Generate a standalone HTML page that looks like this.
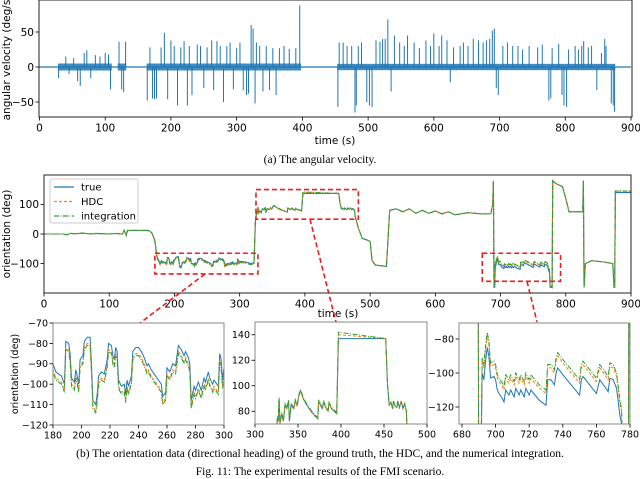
<!DOCTYPE html>
<html><head><meta charset="utf-8"><style>
html,body{margin:0;background:#fff;width:640px;height:479px;overflow:hidden}
svg{display:block;font-family:"DejaVu Sans","Liberation Sans",sans-serif;overflow:hidden}
.cap{font-family:"Liberation Serif",serif;font-size:11.5px}
</style></head><body>
<svg id="fig" width="640" height="479" viewBox="0 0 640 479">
<defs>
<clipPath id="c1"><rect x="39" y="0" width="593" height="117"/></clipPath>
<clipPath id="c2"><rect x="44" y="175" width="587" height="118"/></clipPath>
<clipPath id="c3"><rect x="53" y="323" width="171" height="102"/></clipPath>
<clipPath id="c4"><rect x="255" y="322" width="172" height="102"/></clipPath>
<clipPath id="c5"><rect x="459" y="323" width="171" height="101"/></clipPath>
</defs>
<text class="cap" x="320" y="163" text-anchor="middle">(a) The angular velocity.</text>
<text class="cap" x="320" y="457" text-anchor="middle">(b) The orientation data (directional heading) of the ground truth, the HDC, and the numerical integration.</text>
<text class="cap" x="320" y="475" text-anchor="middle">Fig. 11: The experimental results of the FMI scenario.</text>
</svg>
<script>
// ---- angular velocity data ----
const avSegments=[[28,110],[119,132],[163,398],[453,876]];
const avBand=[5,5,5,4.5];
const spikeT=[29,40,45,52,58,62,68,72,78,85,92,100,105,108,121,125,128,131,
164,168,172,175,178,185,190,195,200,205,210,215,220,225,228,232,240,245,250,255,262,265,270,275,280,285,290,295,300,305,310,315,318,322,325,328,330,335,340,345,350,355,360,365,372,380,390,396,
454,456,462,468,475,480,482,485,490,498,502,506,512,518,522,526,530,535,540,548,555,560,570,578,588,595,600,608,612,620,625,630,640,645,652,660,668,675,680,685,689,692,695,698,705,712,720,728,735,745,758,765,775,778,780,790,795,798,802,805,815,820,825,828,835,840,848,855,860,862,870,873,875];
const spikeV=[-16,15,-10,13,-20,-27,20,24,-16,17,15,20,18,-32,36,-32,-36,36,
-48,28,-45,-46,-45,28,49,-46,38,30,-55,28,37,-55,30,-40,32,30,-30,28,38,-33,37,30,-50,30,35,-32,27,35,-33,-40,-38,60,55,-52,35,30,-35,30,-33,27,-40,27,30,26,27,88,
-57,35,35,30,30,-65,-55,30,35,-50,-55,-57,38,36,40,40,68,-35,45,35,30,45,35,27,38,30,48,30,45,38,-22,28,30,35,30,40,38,35,38,40,52,55,-30,-40,30,35,30,30,25,30,28,32,-48,-45,27,33,-40,-55,-57,25,30,25,30,37,28,30,-33,20,40,30,-52,-55,-64];
const avXTicks=[0,100,200,300,400,500,600,700,800,900];
const avYTicks=[-50,0,50];
// ---- orientation data ----
const oriT=[0,30,35,40,50,60,70,80,90,100,110,120,123,126,128,160,165,170,173,178,
180,182,186,188,189,191,192,193,195,196,197,198,199,201,202,204,206,207,208,210,211,212,214,216,218,219,221,222,223,224,225,226,228,230,231,232,233,235,236,238,240,242,244,246,247,249,252,256,257,259,260,262,264,266,268,270,272,273,275,276,277,279,280,282,284,286,287,289,290,292,293,296,297,298,299,300,
310,318,322,324,326,327,328,329,331,333,335,337,339,340,342,345,347,349,351,353,356,360,365,370,373,374,376,378,380,382,385,386,389,392,395,397,452,454,456,458,460,461,463,465,466,468,470,472,474,476,477,
482,488,495,500,503,508,520,525,530,540,550,560,570,580,590,600,610,620,630,650,670,685,688,689,
690,691,692,693,694,695,696,697,699,700,701,702,704,705,706,708,709,711,712,714,715,717,718,720,721,726,730,731,733,735,736,737,740,745,750,751,752,756,760,762,765,767,768,770,772,774,775,776,
779,780,785,795,800,805,826,827,828,830,840,860,872,874,875,876,900];
const oriTrue=[0,0,-3,2,1,3,0,2,1,0,2,0,12,-5,12,12,5,-20,-75,-100,
-90,-94,-96,-100,-79,-80,-85,-97,-99,-93,-96,-100,-88,-86,-79,-77,-77,-90,-108,-110,-105,-96,-94,-95,-88,-80,-81,-86,-88,-82,-84,-98,-101,-100,-105,-98,-101,-96,-84,-82,-82,-84,-87,-91,-90,-93,-96,-100,-106,-104,-92,-94,-90,-91,-81,-83,-86,-84,-87,-90,-108,-101,-103,-99,-103,-97,-99,-94,-97,-100,-98,-101,-85,-88,-98,-92,
-95,-100,-96,40,75,72,90,70,78,72,85,82,88,72,85,82,88,84,92,96,90,85,80,76,74,88,85,82,87,83,80,86,82,80,78,137,137,102,85,87,82,88,84,83,88,83,88,82,86,80,60,
20,-15,-20,-25,-90,-105,-108,-110,80,85,75,85,70,80,70,78,68,75,65,72,68,68,100,180,
-180,-180,-100,-104,-93,-85,-90,-103,-102,-104,-110,-112,-115,-117,-110,-113,-110,-114,-109,-113,-110,-114,-109,-113,-110,-116,-119,-104,-104,-107,-100,-97,-101,-107,-113,-104,-102,-107,-112,-104,-108,-111,-103,-104,-109,-125,-130,-180,
-180,180,170,160,120,75,75,180,-180,-100,-90,-95,-100,-180,-180,140,140];
const offStart=[0,170,325,397,452,690,778,876];
const hdcOff=[0,-3,0,3,0,7,0,5];
const intOff=[0,-4,1,5,0,9,0,5];
const mainXTicks=[0,100,200,300,400,500,600,700,800,900];
const mainYTicks=[-100,0,100];
const p1XTicks=[180,200,220,240,260,280,300];
const p1YTicks=[-120,-110,-100,-90,-80,-70];
const p2XTicks=[300,350,400,450,500];
const p2YTicks=[80,100,120,140];
const p3XTicks=[680,700,720,740,760,780];
const p3YTicks=[-120,-100,-80];

const NS='http://www.w3.org/2000/svg';
const svg=document.getElementById('fig');
function mk(tag,attrs,parent){const e=document.createElementNS(NS,tag);for(const k in attrs)e.setAttribute(k,attrs[k]);(parent||svg).appendChild(e);return e;}
function lin(d0,d1,r0,r1){return v=>r0+(v-d0)*(r1-r0)/(d1-d0);}
function fmt(v){return v<0?'\u2212'+Math.abs(v):String(v);}
function offAt(t,arr){let o=0;for(let i=0;i<offStart.length;i++){if(t>=offStart[i])o=arr[i];}return o;}

function axes(name,x0,x1,y0,y1,sx,sy,xt,yt,fs,col){
  const g=mk('g',{});
  
  
  mk('rect',{x:x0,y:y0,width:x1-x0,height:y1-y0,fill:'none',stroke:col,'stroke-width':1},g);
  xt.forEach(v=>{const x=sx(v);
    mk('line',{x1:x,x2:x,y1:y1,y2:y1+3.5,stroke:'#000','stroke-width':0.8},g);
    const t=mk('text',{x:x,y:y1+4+fs,'font-size':fs,'text-anchor':'middle'},g);t.textContent=fmt(v);
    
    
  });
  yt.forEach(v=>{const y=sy(v);
    mk('line',{x1:x0-3.5,x2:x0,y1:y,y2:y,stroke:'#000','stroke-width':0.8},g);
    const t=mk('text',{x:x0-5,y:y+fs*0.36,'font-size':fs,'text-anchor':'end'},g);t.textContent=fmt(v);
    
    
  });
  return g;
}
function series(name,clip,sx,sy,off,color,dash,w){
  let d='';
  oriT.forEach((t,i)=>{const v=oriTrue[i]+(off?offAt(t,off):0);d+=(i?'L':'M')+sx(t).toFixed(2)+','+sy(v).toFixed(2);});
  const p=mk('path',{d:d,fill:'none',stroke:color,'stroke-width':w,'stroke-dasharray':dash,'clip-path':'url(#'+clip+')'});
  
  
}
function threeSeries(prefix,clip,sx,sy,w){
  series(prefix+'-true-line',clip,sx,sy,null,'#1f77b4','none',w);
  series(prefix+'-hdc-line',clip,sx,sy,hdcOff,'#ff7f0e','3,2',w);
  series(prefix+'-integration-line',clip,sx,sy,intOff,'#2ca02c','5,1.5,1,1.5',w);
}

// ---- top chart ----
const ax=lin(0,900,39.5,631), ay=lin(0,50,67,32);
const gAv=mk('g',{'clip-path':'url(#c1)'});


mk('line',{x1:ax(0),x2:ax(900),y1:ay(0),y2:ay(0),stroke:'#1f77b4','stroke-width':1.2},gAv);
avSegments.forEach((s,i)=>{const r=mk('rect',{x:ax(s[0]),y:ay(avBand[i]),width:ax(s[1])-ax(s[0]),height:ay(-avBand[i])-ay(avBand[i]),fill:'#1f77b4',opacity:0.85},gAv);
  
  });
spikeT.forEach((t,i)=>{const l=mk('line',{x1:ax(t),x2:ax(t),y1:ay(0),y2:ay(spikeV[i]),stroke:'#1f77b4','stroke-width':1},gAv);
  
  });
axes('angular-velocity',39,632,0,117,ax,ay,avXTicks,avYTicks,10.5,'#222');
let t;
t=mk('text',{x:335,y:144,'font-size':10.5,'text-anchor':'middle'});t.textContent='time (s)';

t=mk('text',{x:0,y:0,'font-size':10.5,'text-anchor':'middle',transform:'translate(10,58) rotate(-90)'});t.textContent='angular velocity (deg/s)';


// ---- main orientation chart ----
const mx=lin(0,900,44,631), my=lin(0,100,234,204.4);
threeSeries('main','c2',mx,my,1.1);
axes('orientation',44,631,175,293,mx,my,mainXTicks,mainYTicks,10.5,'#222');
t=mk('text',{x:338,y:317,'font-size':10.5,'text-anchor':'middle'});t.textContent='time (s)';

t=mk('text',{x:0,y:0,'font-size':10.5,'text-anchor':'middle',transform:'translate(10,234) rotate(-90)'});t.textContent='orientation (deg)';

// legend
const lg=mk('g',{});
mk('rect',{x:50,y:179,width:88,height:44,rx:2,fill:'#fff','fill-opacity':0.85,stroke:'#ccc'},lg);
[['true','#1f77b4','none'],['HDC','#ff7f0e','3,2'],['integration','#2ca02c','5,1.5,1,1.5']].forEach((e,i)=>{
  const y=187+i*14.5;
  mk('line',{x1:54,x2:74,y1:y,y2:y,stroke:e[1],'stroke-width':1.3,'stroke-dasharray':e[2]},lg);
  const tx=mk('text',{x:81,y:y+3.5,'font-size':10},lg);tx.textContent=e[0];
  
});
// zoom boxes & connectors
const zg=mk('g',{fill:'none',stroke:'#ee1c1c','stroke-width':1.6,'stroke-dasharray':'5,3'});

mk('rect',{x:mx(170),y:my(-65),width:mx(328)-mx(170),height:my(-135)-my(-65)},zg);
mk('rect',{x:mx(325),y:my(150),width:mx(482)-mx(325),height:my(50)-my(150)},zg);
mk('rect',{x:mx(672),y:my(-65),width:mx(792)-mx(672),height:my(-160)-my(-65)},zg);
mk('line',{x1:205,y1:my(-135),x2:140,y2:323},zg);
mk('line',{x1:310,y1:my(50),x2:336,y2:322},zg);
mk('line',{x1:527,y1:my(-160),x2:537,y2:322},zg);

// ---- zoom panels ----
const p1x=lin(180,300,53,224), p1y=lin(-70,-120,323,425);
threeSeries('zoom1','c3',p1x,p1y,1);
axes('zoom1',53,224,323,425,p1x,p1y,p1XTicks,p1YTicks,9.5,'#888');
t=mk('text',{x:0,y:0,'font-size':9.5,'text-anchor':'middle',transform:'translate(18,374) rotate(-90)'});t.textContent='orientation (deg)';

const p2x=lin(300,500,255,427), p2y=lin(70,150,424,322);
threeSeries('zoom2','c4',p2x,p2y,1);
axes('zoom2',255,427,322,424,p2x,p2y,p2XTicks,p2YTicks,9.5,'#888');
const p3x=lin(680,780,462,630), p3y=lin(-80,-120,339,407);
threeSeries('zoom3','c5',p3x,p3y,1);
axes('zoom3',459,630,323,424,p3x,p3y,p3XTicks,p3YTicks,9.5,'#888');
</script>
</body></html>
